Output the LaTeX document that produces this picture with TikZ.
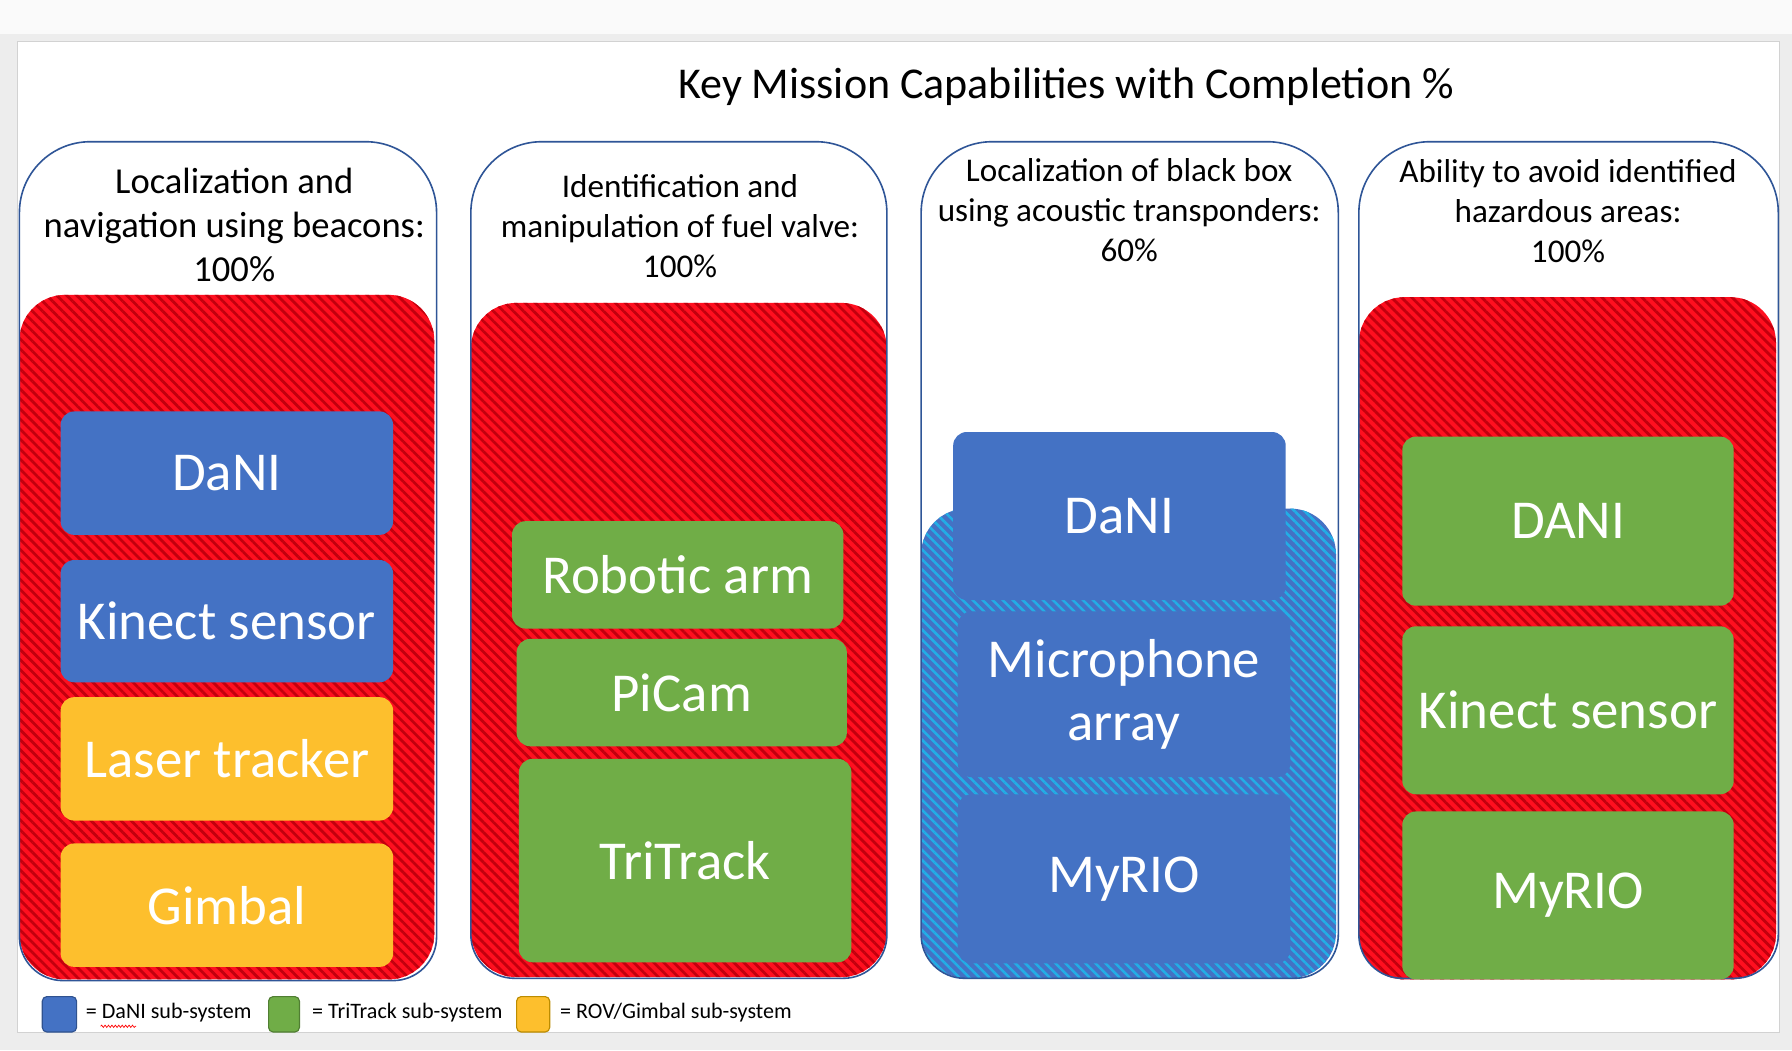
\documentclass[tikz,border=0pt]{standalone}
\usepackage{fontspec}
\setmainfont{Carlito}
\usetikzlibrary{patterns.meta,decorations.pathmorphing}
\definecolor{danblue}{HTML}{4472C4}
\definecolor{danedge}{HTML}{2F528F}
\definecolor{trackgreen}{HTML}{70AD47}
\definecolor{trackedge}{HTML}{507E32}
\definecolor{rovyellow}{HTML}{FDBF2D}
\definecolor{rovedge}{HTML}{BC8C00}
\definecolor{frameblue}{HTML}{2F5597}
\definecolor{hatchred}{HTML}{FF0F1F}
\definecolor{hatchdark}{HTML}{C2000E}
\definecolor{hatchcyan}{HTML}{22AEE6}
\definecolor{screengray}{HTML}{EDEDED}

\begin{document}
\begin{tikzpicture}[x=1pt,y=-1pt,
  frameline/.style={draw=frameblue, line width=1.4pt},
  redhatch/.style={preaction={fill=hatchred}, pattern={Lines[angle=-45,distance=6.2pt,line width=2.4pt]}, pattern color=hatchdark, rounded corners=40},
  bluehatch/.style={preaction={fill=danblue}, pattern={Lines[angle=-45,distance=6.2pt,line width=2.2pt]}, pattern color=hatchcyan, rounded corners=40},
  sysbox/.style={rounded corners=12, text=white, align=center, inner sep=0pt, font=\fontsize{48}{55}\selectfont},
  danbox/.style={sysbox, fill=danblue},
  trackbox/.style={sysbox, fill=trackgreen},
  rovbox/.style={sysbox, fill=rovyellow},
  headtext/.style={align=center, inner sep=0pt, font=\fontsize{29}{35}\selectfont},
  legbox/.style={rounded corners=4, line width=1pt, minimum height=31pt, inner sep=0pt},
  legtext/.style={anchor=west, inner sep=0pt, font=\fontsize{19.3}{23}\selectfont}]
  \useasboundingbox (0,0) rectangle (1568,919);
  % screenshot background and white panel
  \fill[screengray] (0,0) rectangle (1568,919);
  \fill[gray!4] (0,0) rectangle (1568,30);
  \draw[gray!35, fill=white] (15,36) rectangle (1557,903);
  \node[inner sep=0pt, font=\fontsize{38.5}{46}\selectfont] (title) at (933,76) {Key Mission Capabilities with Completion \%};

  % column 1
  \path[redhatch] (17,258) rectangle (380,857);
  \draw[frameline] (17,490) [rounded corners=62] |- (200,124) -| (382,490) [rounded corners=38] |- (200,858) -| (17,490);
  \node[headtext, font=\fontsize{32}{38.5}\selectfont] (lochead) at (205,197) {Localization and\\navigation using beacons:\\100\%};
  \node[danbox, minimum width=291pt, minimum height=108pt] (locdani) at (198.5,414) {DaNI};
  \node[danbox, minimum width=291pt, minimum height=107pt] (lockinect) at (198.5,543.5) {Kinect sensor};
  \node[rovbox, minimum width=291pt, minimum height=108pt] (loclaser) at (198.5,664) {Laser tracker};
  \node[rovbox, minimum width=291pt, minimum height=108pt] (locgimbal) at (198.5,792) {Gimbal};

  % column 2
  \path[redhatch] (412,265) rectangle (776,855);
  \draw[frameline] (412,490) [rounded corners=62] |- (594,124) -| (776,490) [rounded corners=38] |- (594,856) -| (412,490);
  \node[headtext] (valvehead) at (595,198) {Identification and\\manipulation of fuel valve:\\100\%};
  \node[trackbox, minimum width=290pt, minimum height=94pt] (valvearm) at (593,503) {Robotic arm};
  \node[trackbox, minimum width=289pt, minimum height=94pt] (valvecam) at (596.5,606) {PiCam};
  \node[trackbox, minimum width=291pt, minimum height=178pt] (valvetrack) at (599.5,753) {TriTrack};

  % column 3
  \path[bluehatch] (806,445) rectangle (1169,856);
  \draw[frameline] (806,490) [rounded corners=62] |- (988,124) -| (1171,490) [rounded corners=38] |- (988,856) -| (806,490);
  \node[headtext] (boxhead) at (988,184) {Localization of black box\\using acoustic transponders:\\60\%};
  \node[danbox, minimum width=291pt, minimum height=147pt] (boxdani) at (979.5,451.5) {DaNI};
  \node[danbox, minimum width=291pt, minimum height=145pt] (boxmic) at (983.5,607.5) {Microphone\\array};
  \node[danbox, minimum width=291pt, minimum height=148pt] (boxrio) at (983.5,769) {MyRIO};

  % column 4
  \path[redhatch] (1189,260) rectangle (1554,857);
  \draw[frameline] (1189,490) [rounded corners=62] |- (1372,124) -| (1556,490) [rounded corners=38] |- (1372,856) -| (1189,490);
  \node[headtext] (hazhead) at (1372,185) {Ability to avoid identified\\hazardous areas:\\100\%};
  \node[trackbox, minimum width=290pt, minimum height=148pt] (hazdani) at (1372,456) {DANI};
  \node[trackbox, minimum width=290pt, minimum height=147pt] (hazkinect) at (1372,621.5) {Kinect sensor};
  \node[trackbox, minimum width=290pt, minimum height=147pt] (hazrio) at (1372,783.5) {MyRIO};

  % legend
  \node[legbox, fill=danblue, draw=danedge, minimum width=30pt] (legdan) at (52,887.5) {};
  \node[legtext] (legdantext) at (75,886) {= DaNI sub-system};
  \node[legbox, fill=trackgreen, draw=trackedge, minimum width=27pt] (legtrack) at (248.5,887.5) {};
  \node[legtext] (legtracktext) at (273,886) {= TriTrack sub-system};
  \node[legbox, fill=rovyellow, draw=rovedge, minimum width=29pt] (legrov) at (466.5,887.5) {};
  \node[legtext] (legrovtext) at (490,886) {= ROV/Gimbal sub-system};
  \draw[red, line width=0.6pt, decorate, decoration={snake, amplitude=1pt, segment length=3pt}] (88,898) -- (119,898);
\end{tikzpicture}
\end{document}
